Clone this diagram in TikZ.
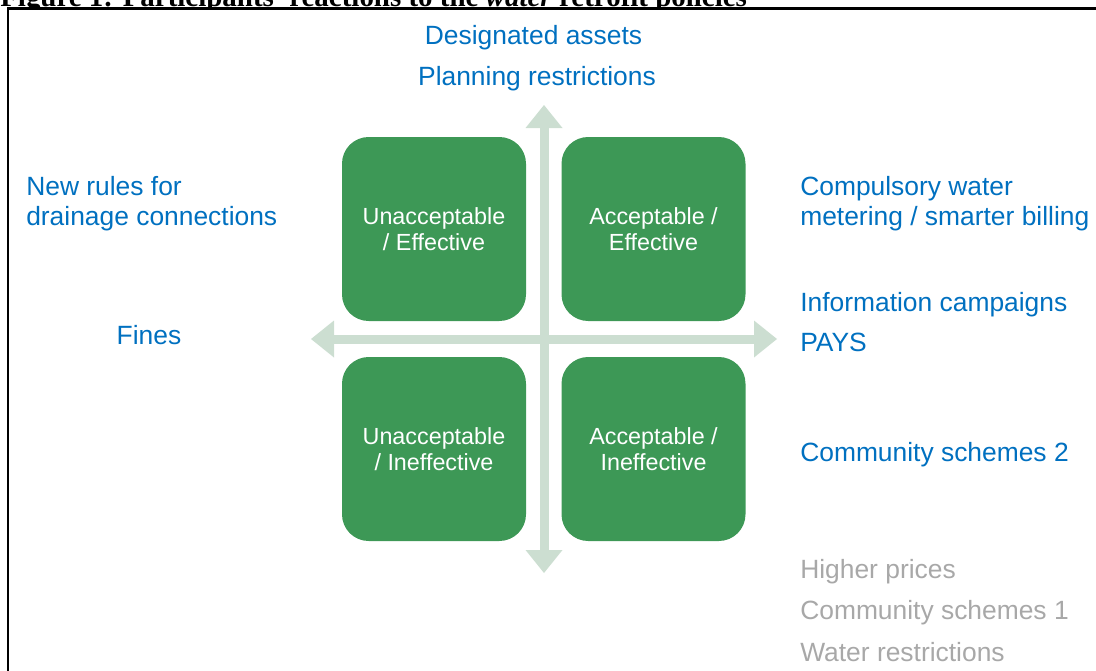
\documentclass[tikz,border=0pt]{standalone}
\usepackage{fontspec}
\setmainfont{Liberation Sans}
\newfontfamily\capfont{Liberation Serif}
\usetikzlibrary{arrows.meta}
\definecolor{polblue}{RGB}{0,112,192}
\definecolor{polgrey}{RGB}{168,168,168}
\definecolor{quadgreen}{RGB}{61,152,86}
\definecolor{axisgreen}{RGB}{204,222,209}

\begin{document}
\begin{tikzpicture}[x=0.75pt,y=-0.75pt,
  quad/.style={fill=quadgreen,text=white,rounded corners=20pt,minimum width=138pt,minimum height=138pt,align=center,font=\fontsize{17.5}{19.5}\selectfont},
  pol/.style={text=polblue,inner sep=0pt,font=\fontsize{19.8}{22}\selectfont},
  oldpol/.style={pol,text=polgrey},
  axis/.style={draw=axisgreen,line width=6.75pt,arrows={Triangle[length=17.25pt,width=27.75pt,line width=0pt]-Triangle[length=17.25pt,width=27.75pt,line width=0pt]}}]
  \useasboundingbox (0,0) rectangle (1096,671);
  \clip (0,0) rectangle (1096,671);
  % caption, cut off at the top
  \begin{scope}
    \clip (0,0) rectangle (1096,7.5);
    \node[anchor=base west,inner sep=0pt] (caption) at (0,6.5) {\resizebox{560pt}{!}{\capfont\bfseries Figure 1: Participants' reactions to the \textit{water} retrofit policies}};
  \end{scope}
  \draw[line width=1.9pt] (7.8,700) -- (7.8,8.7) -- (1120,8.7);
  % axes
  \coordinate (up) at (544,105);
  \coordinate (down) at (544,573);
  \coordinate (left) at (311,339);
  \coordinate (right) at (777,339);
  \draw[axis] (down) -- (up);
  \draw[axis] (left) -- (right);
  % quadrants
  \node[quad] (ue) at (434,229) {Unacceptable\\/ Effective};
  \node[quad] (ae) at (653.5,229) {Acceptable /\\Effective};
  \node[quad] (ui) at (434,449) {Unacceptable\\/ Ineffective};
  \node[quad] (ai) at (653.5,449) {Acceptable /\\Ineffective};
  % policies
  \node[pol,anchor=base] (assets) at (533.5,44) {Designated assets};
  \node[pol,anchor=base] (planning) at (537,85) {Planning restrictions};
  \node[pol,anchor=base west] (rules1) at (26,195) {New rules for};
  \node[pol,anchor=base west] (rules2) at (26,225) {drainage connections};
  \node[pol,anchor=base] (fines) at (149,344) {Fines};
  \node[pol,anchor=base west] (meter1) at (800,195) {Compulsory water};
  \node[pol,anchor=base west] (meter2) at (800,225) {metering / smarter billing};
  \node[pol,anchor=base west] (info) at (800,311) {Information campaigns};
  \node[pol,anchor=base west] (pays) at (800,351) {PAYS};
  \node[pol,anchor=base west] (comm2) at (800,461) {Community schemes 2};
  \node[oldpol,anchor=base west] (prices) at (800,578) {Higher prices};
  \node[oldpol,anchor=base west] (comm1) at (800,619) {Community schemes 1};
  \node[oldpol,anchor=base west] (restrict) at (800,661) {Water restrictions};
\end{tikzpicture}
\end{document}
